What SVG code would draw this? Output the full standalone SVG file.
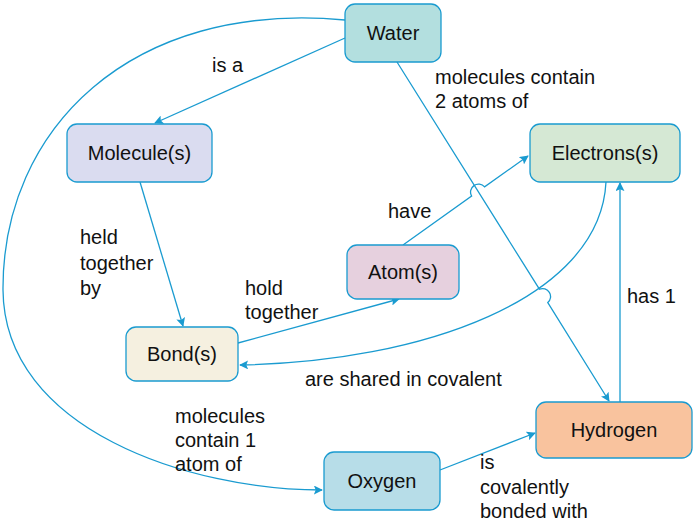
<svg xmlns="http://www.w3.org/2000/svg" width="700" height="526" viewBox="0 0 700 526">
<style>
.n{stroke:#1a9bd0;stroke-width:1.3}
.t{font-family:"Liberation Sans",Arial,sans-serif;font-size:20px;fill:#111}
.c path{fill:none;stroke:#1a9bd0;stroke-width:1.3}
</style>
<defs><marker id="a" viewBox="0 0 10 10" refX="9" refY="5" markerWidth="9" markerHeight="9" orient="auto" markerUnits="userSpaceOnUse"><path d="M0,0L10,5L0,10L2,5z" fill="#1a9bd0"/></marker></defs>
<rect width="700" height="526" fill="#fff"/>
<g class="c">
<path d="M345,38L155,123" marker-end="url(#a)"/>
<path d="M397,62L539.4,289.2A8,8 0 0 1 547.8,302.6L609,401" marker-end="url(#a)"/>
<path d="M345,20C130,0 2,130 3,290C4,430 190,490 322,490" marker-end="url(#a)"/>
<path d="M140,182L183,326" marker-end="url(#a)"/>
<path d="M238,343L399,299" marker-end="url(#a)"/>
<path d="M403,245L471.6,196.1A8,8 0 0 1 484.6,186.9L528,156" marker-end="url(#a)"/>
<path d="M606,182C600,300 420,362 240,365" marker-end="url(#a)"/>
<path d="M620,402L620,183" marker-end="url(#a)"/>
<path d="M440,470L535,433" marker-end="url(#a)"/>
</g>
<g id="water"><rect class="n" x="345" y="4" width="96" height="58" rx="10" fill="#b3dfdf"/><text class="t" x="393" y="40" text-anchor="middle">Water</text></g>
<g id="molecule"><rect class="n" x="67" y="124" width="145" height="58" rx="10" fill="#dadcf0"/><text class="t" x="139.5" y="160" text-anchor="middle">Molecule(s)</text></g>
<g id="electrons"><rect class="n" x="530" y="124" width="150" height="58" rx="10" fill="#d5e8d4"/><text class="t" x="605" y="160" text-anchor="middle">Electrons(s)</text></g>
<g id="atom"><rect class="n" x="347" y="245" width="112" height="54" rx="10" fill="#e6d0de"/><text class="t" x="403" y="279" text-anchor="middle">Atom(s)</text></g>
<g id="bond"><rect class="n" x="126" y="327" width="112" height="54" rx="10" fill="#f5f0e0"/><text class="t" x="182" y="361" text-anchor="middle">Bond(s)</text></g>
<g id="hydrogen"><rect class="n" x="536" y="402" width="156" height="56" rx="10" fill="#f9c39e"/><text class="t" x="614" y="437" text-anchor="middle">Hydrogen</text></g>
<g id="oxygen"><rect class="n" x="324" y="452" width="116" height="58" rx="10" fill="#b7dde8"/><text class="t" x="382" y="488" text-anchor="middle">Oxygen</text></g>
<g id="labels">
<text class="t" x="212" y="72">is a</text>
<text class="t" x="435" y="84">molecules contain</text>
<text class="t" x="435" y="108">2 atoms of</text>
<text class="t" x="80" y="244">held</text>
<text class="t" x="80" y="270">together</text>
<text class="t" x="80" y="295">by</text>
<text class="t" x="388" y="218">have</text>
<text class="t" x="245" y="295">hold</text>
<text class="t" x="245" y="319">together</text>
<text class="t" x="627" y="303">has 1</text>
<text class="t" x="305" y="386">are shared in covalent</text>
<text class="t" x="175" y="423">molecules</text>
<text class="t" x="175" y="447">contain 1</text>
<text class="t" x="175" y="471">atom of</text>
<text class="t" x="480" y="469">is</text>
<text class="t" x="480" y="494">covalently</text>
<text class="t" x="480" y="518">bonded with</text>
</g>
</svg>
